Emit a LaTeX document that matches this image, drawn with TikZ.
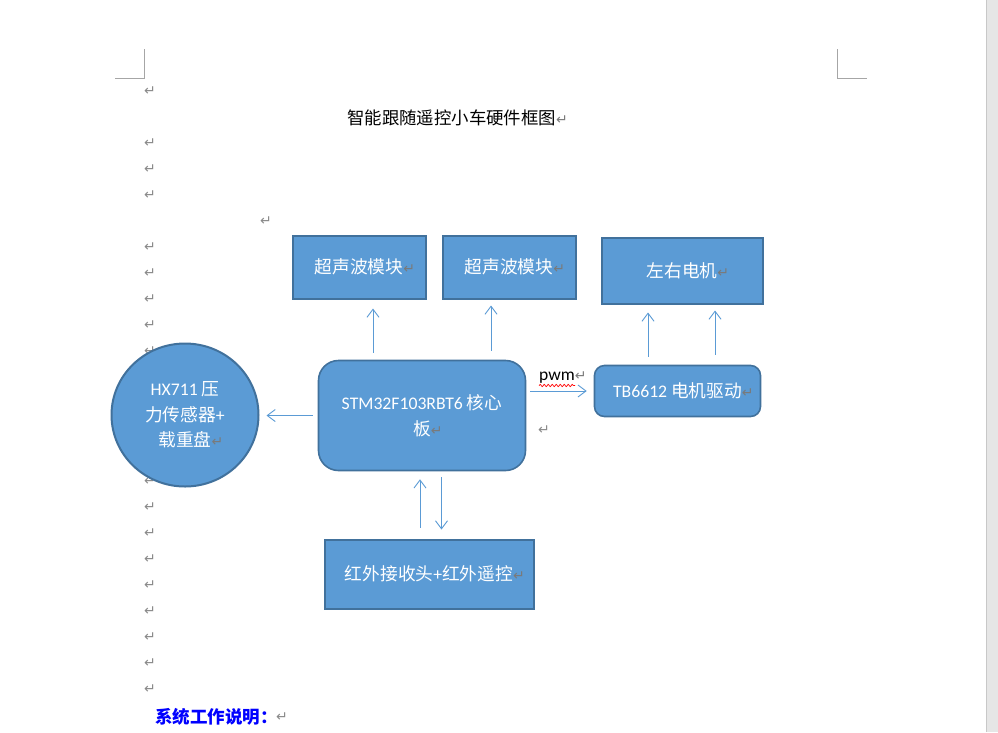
\documentclass[tikz,border=0pt]{standalone}
\usepackage{fontspec}
\newfontfamily\cjk{Noto Sans CJK SC}
\newfontfamily\lat{Carlito}
\newfontfamily\sym{DejaVu Sans}
\usetikzlibrary{arrows.meta,decorations.pathmorphing,shapes.geometric}
\definecolor{boxfill}{HTML}{5B9BD5}
\definecolor{boxline}{HTML}{41719C}
\definecolor{markgray}{HTML}{8A8A8A}
\definecolor{inmark}{HTML}{7A7A7A}
\definecolor{cornergray}{HTML}{A6A6A6}
\definecolor{scrollfill}{HTML}{E6E6E6}
\definecolor{scrollline}{HTML}{C8C8C8}
\definecolor{headblue}{HTML}{0000FF}
\newcommand\parmark{\rlap{\sym\fontsize{14}{14}\selectfont\color{inmark}↵}}
\tikzset{
  blockbox/.style={draw=boxline, fill=boxfill, line width=2pt, inner sep=0pt,
    text=white, font=\cjk\fontsize{17.7}{25.5}\selectfont, align=center},
  roundbox/.style={blockbox, line width=1.6pt},
  arr/.style={draw=boxfill, line width=0.9pt, -{Straight Barb[length=8pt,width=12pt]}},
  markstyle/.style={inner sep=0pt, anchor=west, text=markgray, font=\sym\fontsize{14}{14}\selectfont},
  corner/.style={draw=cornergray, line width=1pt},
  plaintext/.style={inner sep=0pt, anchor=west, font=\cjk\fontsize{17.4}{20}\selectfont}
}
\begin{document}
\begin{tikzpicture}[x=1pt,y=-1pt]
\useasboundingbox (0,0) rectangle (998,732);
\fill[white] (0,0) rectangle (998,732);
% scrollbar
\fill[scrollfill] (986,0) rectangle (998,732);
\draw[scrollline, line width=1.2pt] (986.5,0) -- (986.5,732);
% page corner marks
\draw[corner] (144.5,49) -- (144.5,78.5) -- (115,78.5);
\draw[corner] (837.5,49) -- (837.5,78.5) -- (867,78.5);
% paragraph marks in the left margin
\foreach \yy [count=\i] in {91,143,169,195,247,273,299,325,351,481,507,533,559,585,611,637,663,689}
  \node[markstyle] (pm\i) at (144,\yy) {↵};
\node[markstyle] (pmA) at (260,221) {↵};
\node[markstyle] (pmB) at (538,430) {↵};
% title
\node[plaintext] (title) at (347,118) {智能跟随遥控小车硬件框图\parmark};
% blocks
\node[blockbox, minimum width=133pt, minimum height=63pt] (us1) at (359,267) {超声波模块\parmark};
\node[blockbox, minimum width=133pt, minimum height=63pt] (us2) at (509,267) {超声波模块\parmark};
\node[blockbox, minimum width=161pt, minimum height=66pt] (motor) at (682,270.5) {左右电机\parmark};
\node[blockbox, ellipse, minimum width=147pt, minimum height=143pt] (hx) at (185,415) {{\lat HX711} 压\\力传感器{\lat +}\\载重盘\parmark};
\node[roundbox, rounded corners=20pt, minimum width=207pt, minimum height=110pt] (stm) at (422,415.5) {{\lat STM32F103RBT6} 核心\\板\parmark};
\node[roundbox, rounded corners=10pt, minimum width=166pt, minimum height=51pt] (tb) at (677.5,391) {{\lat TB6612} 电机驱动\parmark};
\node[blockbox, minimum width=209pt, minimum height=69pt] (ir) at (429,574) {红外接收头{\lat +}红外遥控\parmark};
% x reference coordinates for arrows
\coordinate (xa) at (373,0);
\coordinate (xb) at (491,0);
\coordinate (xc) at (648,0);
\coordinate (xd) at (715,0);
\coordinate (xe) at (420,0);
\coordinate (xf) at (441.5,0);
% connectors
\draw[arr, shorten <=7pt, shorten >=9pt] (stm.north -| xa) -- (us1.south -| xa);
\draw[arr, shorten <=9pt, shorten >=6pt] (stm.north -| xb) -- (us2.south -| xb);
\draw[arr, shorten <=8pt, shorten >=8pt] (tb.north -| xc) -- (motor.south -| xc);
\draw[arr, shorten <=10pt, shorten >=6pt] (tb.north -| xd) -- (motor.south -| xd);
\draw[arr, shorten <=5pt, shorten >=7pt] (stm.west) -- (hx.east |- stm.west);
\draw[arr, shorten <=4pt, shorten >=7pt] (stm.east |- tb.west) -- (tb.west);
\draw[arr, shorten <=11pt, shorten >=8pt] (ir.north -| xe) -- (stm.south -| xe);
\draw[arr, shorten <=6pt, shorten >=9pt] (stm.south -| xf) -- (ir.north -| xf);
% pwm label
\node[inner sep=0pt, anchor=west, font=\lat\fontsize{17.5}{20}\selectfont] (pwm) at (539,378) {pwm\parmark};
\draw[red, line width=0.7pt, decorate, decoration={snake, amplitude=1.1pt, segment length=4pt}] (539,385.5) -- (575,385.5);
% bottom heading
\node[inner sep=0pt, anchor=west, text=headblue, font=\cjk\bfseries\fontsize{17.5}{20}\selectfont] (head) at (155,717) {系统工作说明：};
\node[markstyle] (pmC) at (276,717) {↵};
\end{tikzpicture}
\end{document}
